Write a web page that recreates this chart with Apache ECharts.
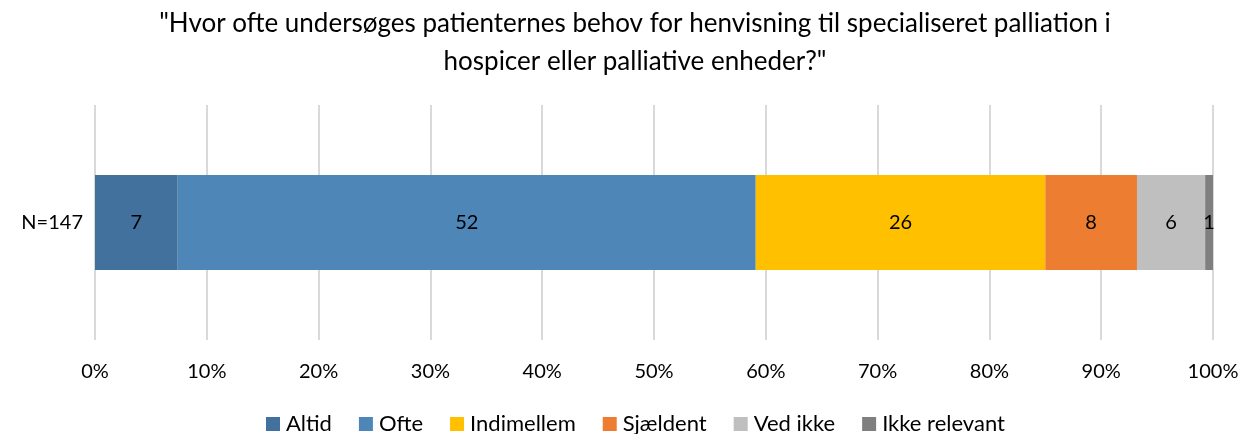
<!DOCTYPE html>
<html>
<head>
<meta charset="utf-8">
<script src="https://cdn.jsdelivr.net/npm/echarts@6/dist/echarts.min.js"></script>
<style>
  html, body { margin: 0; padding: 0; background: #fff; }
  #chart { width: 1243px; height: 434px; }
</style>
</head>
<body>
<div id="chart"></div>
<script>
// Share of answers (percent of N=147)
const categories = ['N=147'];
const seriesNames = ['Altid', 'Ofte', 'Indimellem', 'Sjældent', 'Ved ikke', 'Ikke relevant'];
const altid = [7.4];
const ofte = [51.7];
const indimellem = [25.9];
const sjaeldent = [8.2];
const vedIkke = [6.1];
const ikkeRelevant = [0.7];
const tickLabels = ['0%', '10%', '20%', '30%', '40%', '50%', '60%', '70%', '80%', '90%', '100%'];
const titleText = '"Hvor ofte undersøges patienternes behov for henvisning til specialiseret palliation i\nhospicer eller palliative enheder?"';

const values = [altid, ofte, indimellem, sjaeldent, vedIkke, ikkeRelevant];
const colors = ['#41719C', '#4E86B8', '#FFC000', '#ED7D31', '#BFBFBF', '#7F7F7F'];
const font = 'Lato, "Open Sans", sans-serif';

const chart = echarts.init(document.getElementById('chart'), null, { renderer: 'canvas' });

chart.setOption({
  animation: false,
  textStyle: { fontFamily: font },
  graphic: [{
    type: 'text',
    x: 635,
    y: 5,
    style: {
      text: titleText,
      align: 'center',
      verticalAlign: 'top',
      fontFamily: font,
      fontSize: 26,
      lineHeight: 38,
      fill: '#000'
    }
  }],
  legend: {
    bottom: -1,
    left: 266,
    itemWidth: 14,
    itemHeight: 14,
    itemGap: 27,
    icon: 'rect',
    padding: 0,
    textStyle: { fontFamily: font, fontSize: 22, color: '#000', padding: [0, 0, 0, 1] },
    data: seriesNames
  },
  grid: { left: 95, right: 30, top: 105, bottom: 94, containLabel: false },
  xAxis: {
    type: 'value',
    min: 0,
    max: 100,
    interval: 10,
    axisLine: { show: false },
    axisTick: { show: false },
    splitLine: { lineStyle: { color: '#D9D9D9', width: 2 } },
    axisLabel: {
      fontFamily: font, fontSize: 20, color: '#000', margin: 22,
      formatter: (v) => tickLabels[Math.round(v / 10)]
    }
  },
  yAxis: {
    type: 'category',
    data: categories,
    axisLine: { show: false },
    axisTick: { show: false },
    axisLabel: { fontFamily: font, fontSize: 20, color: '#000', margin: 12 }
  },
  series: seriesNames.map((name, i) => ({
    name,
    type: 'bar',
    stack: 'total',
    barWidth: 95,
    itemStyle: { color: colors[i] },
    label: {
      show: true,
      position: 'inside',
      fontFamily: font,
      fontSize: 20,
      color: '#000',
      formatter: (p) => Math.round(p.value).toString()
    },
    labelLayout: { hideOverlap: false },
    data: values[i]
  }))
});
</script>
</body>
</html>
